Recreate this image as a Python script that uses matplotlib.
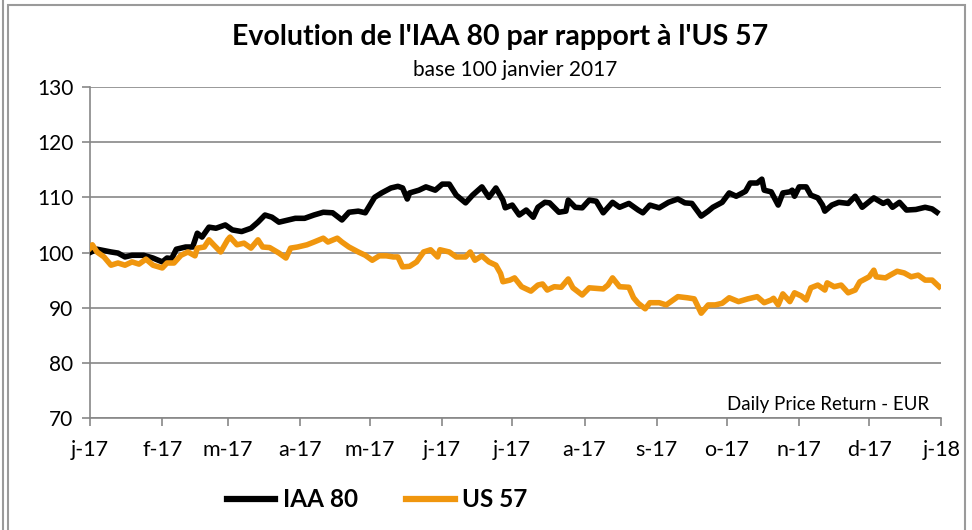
import numpy as np
import pandas as pd
import matplotlib
matplotlib.use("Agg")
import matplotlib.pyplot as plt
from matplotlib.patches import Rectangle
from matplotlib.lines import Line2D

plt.rcParams['font.family'] = ['Lato', 'DejaVu Sans']

# jours depuis le 1er janvier 2017 et valeurs (base 100)
iaa_days = [0, 3, 9, 12, 15, 18, 23, 27, 31, 33, 35, 37, 41, 44, 46, 48, 51, 54, 58, 61,
            65, 69, 72, 75, 78, 81, 85, 88, 92, 96, 100, 104, 108, 111, 115, 118, 122, 125, 129, 132,
            134, 136, 137, 141, 144, 148, 151, 154, 157, 161, 164, 168, 171, 174, 177, 178, 181, 184, 187, 190,
            192, 195, 197, 201, 204, 205, 208, 211, 214, 217, 220, 224, 227, 231, 235, 237, 240, 244, 248, 252,
            255, 258, 262, 265, 267, 271, 274, 277, 281, 283, 286, 288, 289, 292, 295, 297, 300, 301, 302, 304,
            307, 309, 312, 314, 315, 318, 321, 325, 328, 331, 336, 340, 342, 344, 347, 350, 354, 358, 361, 363]
iaa_vals = [100.0, 100.6, 100.1, 99.9, 99.2, 99.5, 99.5, 99.0, 98.3, 99.0, 98.9, 100.6, 101.0, 101.0, 103.5, 102.8, 104.6, 104.4, 105.0, 104.1,
            103.8, 104.4, 105.5, 106.8, 106.4, 105.5, 105.9, 106.2, 106.2, 106.8, 107.3, 107.2, 105.9, 107.3, 107.5, 107.2, 110.0, 110.8, 111.7, 112.0,
            111.7, 109.7, 110.8, 111.3, 111.9, 111.3, 112.4, 112.4, 110.4, 109.0, 110.4, 111.9, 110.0, 111.7, 109.5, 108.1, 108.6, 106.8, 107.7, 106.4,
            108.2, 109.1, 109.0, 107.3, 107.5, 109.5, 108.2, 108.1, 109.5, 109.3, 107.2, 109.1, 108.2, 108.9, 107.7, 107.2, 108.6, 108.1, 109.1, 109.7,
            109.0, 108.9, 106.6, 107.5, 108.2, 109.1, 110.8, 110.2, 111.1, 112.6, 112.6, 113.3, 111.3, 111.0, 108.6, 110.8, 111.0, 111.3, 110.2, 111.9,
            111.9, 110.4, 109.9, 108.6, 107.5, 108.6, 109.1, 108.9, 110.2, 108.2, 109.9, 108.9, 109.3, 108.2, 109.1, 107.7, 107.8, 108.2, 107.9, 107.3]

us_days = [0, 1, 3, 6, 9, 12, 15, 18, 21, 24, 27, 31, 33, 36, 39, 42, 45, 46, 49, 51,
           53, 56, 59, 60, 63, 66, 69, 72, 74, 77, 81, 84, 86, 89, 93, 96, 100, 102, 106, 108,
           111, 115, 118, 121, 124, 127, 130, 132, 134, 137, 140, 143, 146, 149, 150, 154, 157, 161, 163, 165,
           168, 171, 174, 176, 177, 180, 182, 185, 189, 192, 194, 196, 199, 202, 205, 207, 211, 214, 220, 222,
           224, 227, 231, 233, 235, 238, 240, 244, 247, 252, 256, 259, 262, 265, 268, 271, 274, 278, 282, 286,
           289, 292, 293, 295, 297, 300, 302, 305, 307, 309, 312, 315, 316, 319, 322, 325, 328, 330, 334, 336,
           337, 341, 343, 346, 349, 352, 355, 358, 361, 364]
us_vals = [100.8, 101.4, 100.1, 99.2, 97.7, 98.1, 97.7, 98.3, 97.9, 98.8, 97.7, 97.2, 98.1, 98.1, 99.5, 100.1, 99.4, 100.8, 101.0, 102.3,
           101.4, 100.1, 102.3, 102.8, 101.4, 101.7, 100.8, 102.3, 101.0, 100.9, 99.9, 99.0, 100.8, 101.0, 101.4, 101.9, 102.6, 101.9, 102.6, 101.9,
           101.0, 100.1, 99.5, 98.6, 99.4, 99.4, 99.2, 99.2, 97.4, 97.5, 98.3, 100.1, 100.5, 99.2, 100.5, 100.1, 99.2, 99.2, 100.1, 98.6,
           99.4, 98.3, 97.7, 96.2, 94.7, 95.0, 95.4, 93.8, 93.0, 94.1, 94.3, 93.2, 93.8, 93.7, 95.2, 93.6, 92.3, 93.6, 93.4, 94.1,
           95.4, 93.8, 93.7, 91.8, 90.8, 89.8, 90.9, 90.9, 90.5, 92.0, 91.8, 91.6, 89.0, 90.5, 90.5, 90.8, 91.8, 91.1, 91.6, 92.0,
           90.9, 91.4, 91.7, 90.5, 92.5, 91.1, 92.7, 92.1, 91.4, 93.6, 94.1, 93.2, 94.5, 93.8, 94.1, 92.7, 93.2, 94.7, 95.6, 96.8,
           95.6, 95.4, 95.9, 96.6, 96.3, 95.6, 95.9, 95.0, 95.0, 93.8]

month_labels = ['j-17', 'f-17', 'm-17', 'a-17', 'm-17', 'j-17', 'j-17', 'a-17',
                's-17', 'o-17', 'n-17', 'd-17', 'j-18']

start = pd.Timestamp('2017-01-01')
iaa_dates = start + pd.to_timedelta(iaa_days, unit='D')
us_dates = start + pd.to_timedelta(us_days, unit='D')
month_ticks = pd.date_range('2017-01-01', '2018-01-01', freq='MS')

fig = plt.figure(figsize=(9.72, 5.30), dpi=100)
ax = fig.add_axes([0.0926, 0.2113, 0.876, 0.6245])

orange = '#F0960E'
grid_c = '#878787'

ax.plot(iaa_dates, iaa_vals, color='black', lw=4.0, solid_joinstyle='round', label='IAA 80', zorder=3)
ax.plot(us_dates, us_vals, color=orange, lw=4.0, solid_joinstyle='round', label='US 57', zorder=3)

ax.set_ylim(70, 130)
ax.set_yticks(range(70, 131, 10))
ax.set_xlim(month_ticks[0], month_ticks[-1])
ax.set_xticks(month_ticks)
ax.set_xticklabels(month_labels)

ax.yaxis.grid(True, color=grid_c, lw=1.2)
ax.set_axisbelow(True)
for s in ['top', 'right']:
    ax.spines[s].set_visible(False)
for s in ['left', 'bottom']:
    ax.spines[s].set_color(grid_c)
    ax.spines[s].set_linewidth(1.2)
ax.tick_params(axis='y', length=6, width=1.2, color=grid_c, labelsize=15, pad=6)
ax.tick_params(axis='x', length=6, width=1.2, color=grid_c, labelsize=15.5, pad=10)

ax.text(0.985, 0.015, 'Daily Price Return - EUR', transform=ax.transAxes,
        ha='right', va='bottom', fontsize=13.5)

fig.text(0.515, 0.93, "Evolution de l'IAA 80 par rapport à l'US 57",
         ha='center', va='center', fontsize=20.5, fontweight='bold')
fig.text(0.53, 0.868, 'base 100 janvier 2017', ha='center', va='center', fontsize=15)

handles = [Line2D([], [], color='black', lw=4.5), Line2D([], [], color=orange, lw=4.5)]
leg = fig.legend(handles, ['IAA 80', 'US 57'], loc='center', bbox_to_anchor=(0.388, 0.057),
                 ncol=2, frameon=False, handlelength=2.0, handletextpad=0.3,
                 columnspacing=2.0, prop={'size': 17.5, 'weight': 'bold'})

# cadre du graphique
fig.patches.append(Rectangle((8 / 972, -0.05), 957 / 972, 1.04, transform=fig.transFigure,
                             fill=False, edgecolor='#9a9a9a', lw=1.5))
fig.lines.append(Line2D([3 / 972, 3 / 972], [0, 1], transform=fig.transFigure,
                        color='#9a9a9a', lw=1.5))

fig.savefig('out.png', dpi=100)
